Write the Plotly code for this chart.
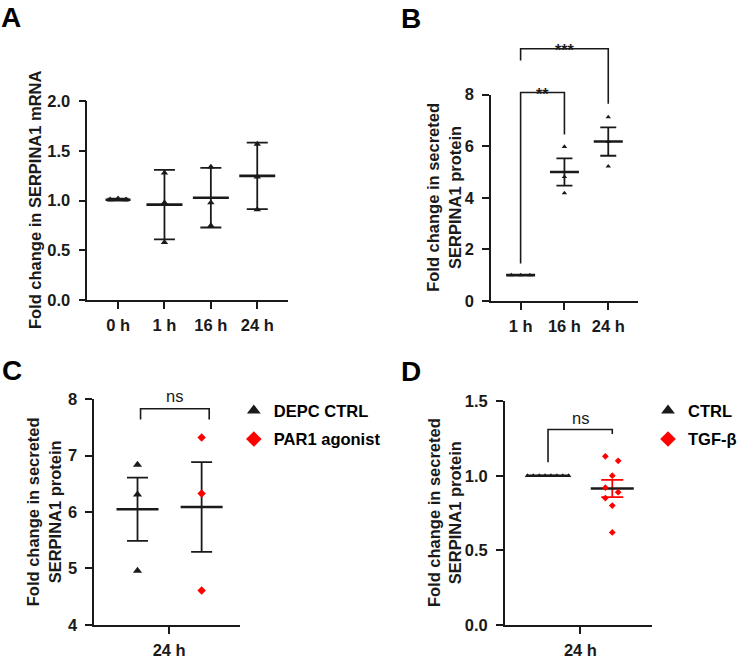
import plotly.graph_objects as go

W, H = 742, 667
INK = '#1a1a1a'
RED = '#ff0000'
FONT = 'Liberation Sans, Arial, Helvetica, sans-serif'
FS = 16.5

# ---- values ----
# A: SERPINA1 mRNA (mean +/- SD)
a_labels = ['0 h', '1 h', '16 h', '24 h']
a_points = [[1.01, 1.02, 1.01], [1.28, 0.98, 0.58], [1.34, 0.98, 0.75], [1.57, 1.24, 0.91]]
a_mean = [1.01, 0.96, 1.03, 1.25]
a_err = [0.01, 0.35, 0.30, 0.335]

# B: secreted SERPINA1 protein over time (mean +/- SEM)
b_labels = ['1 h', '16 h', '24 h']
b_points = [[1.0, 1.0, 1.0], [5.98, 4.81, 4.18], [7.13, 6.17, 5.22]]
b_mean = [1.0, 5.0, 6.18]
b_err = [0.0, 0.53, 0.55]
b_stars = ['**', '***']

# C: DEPC CTRL vs PAR1 agonist, 24 h
c_groups = ['DEPC CTRL', 'PAR1 agonist']
c_points = [[6.84, 6.31, 4.96], [7.32, 6.33, 4.61]]
c_mean = [6.05, 6.09]
c_err = [0.56, 0.795]

# D: CTRL vs TGF-beta, 24 h
d_groups = ['CTRL', 'TGF-β']
d_points = [[1.0, 1.0, 1.0, 1.0, 1.0, 1.0, 1.0, 1.0],
            [1.13, 1.10, 1.00, 0.92, 0.89, 0.85, 0.80, 0.62]]
d_mean = [1.0, 0.914]
d_err = [0.0, 0.058]

time_label = '24 h'
ns_text = 'ns'
title_a = 'Fold change in SERPINA1 mRNA'
title_protein = 'Fold change in secreted<br>SERPINA1 protein'


def px_x(p):
    return p / W


def px_y(p):
    return 1 - p / H


def to_paper(v, dom, rng):
    return dom[0] + (v - rng[0]) / (rng[1] - rng[0]) * (dom[1] - dom[0])


fig = go.Figure()


def add_mean_err(xa, ya, x, mean, err, length, cap, err_color=INK):
    # mean line drawn as a wide line-ew marker, error bar with caps
    fig.add_trace(go.Scatter(
        x=[x], y=[mean], mode='markers', xaxis=xa, yaxis=ya,
        showlegend=False, hoverinfo='skip',
        marker=dict(symbol='line-ew', size=length / 1.4, color=INK,
                    line=dict(color=INK, width=2.6)),
        error_y=dict(type='data', array=[err], visible=True, width=cap,
                     thickness=1.8, color=err_color)))


def add_points(xa, ya, xs, ys, symbol, size, color, name=None, legend=None):
    fig.add_trace(go.Scatter(
        x=xs, y=ys, mode='markers', xaxis=xa, yaxis=ya, name=name,
        showlegend=name is not None, legend=legend, legendgroup=name,
        hoverinfo='skip', cliponaxis=False,
        marker=dict(symbol=symbol, size=size, color=color, line=dict(width=0))))


# ---- panel A ----
a_len = [25, 36, 36, 36]
a_jitter = [[-0.17, 0, 0.17], [0, 0, 0], [0, 0, 0], [0, 0, 0]]
for i in range(len(a_labels)):
    add_mean_err('x', 'y', i, a_mean[i], a_err[i], a_len[i], 10.5)
for i in range(len(a_labels)):
    add_points('x', 'y', [i + j for j in a_jitter[i]], a_points[i], 'triangle-up', 6.5, INK)

# ---- panel B ----
b_jitter = [[-0.21, 0, 0.21], [0, 0, 0], [0, 0, 0]]
for i in range(len(b_labels)):
    add_mean_err('x2', 'y2', i, b_mean[i], b_err[i], 29, 8)
for i in range(len(b_labels)):
    add_points('x2', 'y2', [i + j for j in b_jitter[i]], b_points[i], 'triangle-up', 4.8, INK)

# ---- panel C ----
c_pos = [0.297, 0.738]
for i in range(2):
    add_mean_err('x3', 'y3', c_pos[i], c_mean[i], c_err[i], 42, 10.5)
add_points('x3', 'y3', [c_pos[0]] * 3, c_points[0], 'triangle-up', 8, INK, c_groups[0], 'legend')
add_points('x3', 'y3', [c_pos[1]] * 3, c_points[1], 'diamond', 6.5, RED, c_groups[1], 'legend')

# ---- panel D ----
d_pos = [0.292, 0.728]
d_jitter = [[-0.14, -0.10, -0.06, -0.02, 0.02, 0.06, 0.10, 0.14],
            [-0.047, 0.04, 0, -0.047, 0.04, -0.047, 0, 0]]
add_mean_err('x4', 'y4', d_pos[0], d_mean[0], d_err[0], 43, 11)
add_mean_err('x4', 'y4', d_pos[1], d_mean[1], d_err[1], 43, 11, err_color=RED)
add_points('x4', 'y4', [d_pos[0] + j for j in d_jitter[0]], d_points[0], 'triangle-up', 4.8, INK,
           d_groups[0], 'legend2')
add_points('x4', 'y4', [d_pos[1] + j for j in d_jitter[1]], d_points[1], 'diamond', 5.2, RED,
           d_groups[1], 'legend2')

# ---- axes ----
tick_font = dict(family=FONT, size=FS, color=INK, weight='bold')
ax = dict(showline=True, linecolor=INK, linewidth=1.8, ticks='outside', ticklen=7,
          tickwidth=1.8, tickcolor=INK, showgrid=False, zeroline=False,
          tickfont=tick_font, fixedrange=True)
xax = dict(ax, ticklabelstandoff=2)
yax = dict(ax, ticklabelstandoff=5)

dom_a = [px_y(299), px_y(95)]
dom_b = [px_y(300), px_y(88)]
dom_c = [px_y(633), px_y(401)]
dom_d = [px_y(633), px_y(403)]
rng_b = [0, 8]
rng_c = [4, 8]

leg_font = dict(family=FONT, size=FS, color='black', weight='bold')

fig.update_layout(
    width=W, height=H, margin=dict(l=0, r=0, t=0, b=0),
    paper_bgcolor='white', plot_bgcolor='white',
    font=dict(family=FONT, size=FS, color=INK),
    xaxis=dict(xax, domain=[px_x(89), px_x(293)], range=[-0.66, 3.66], anchor='y',
               tickvals=list(range(len(a_labels))), ticktext=a_labels),
    yaxis=dict(yax, domain=dom_a, range=[0, 2], anchor='x', tickvals=[0, 0.5, 1, 1.5, 2],
               tickformat='.1f'),
    xaxis2=dict(xax, domain=[px_x(500), px_x(649)], range=[-0.67, 2.67], anchor='y2',
                tickvals=list(range(len(b_labels))), ticktext=b_labels),
    yaxis2=dict(yax, domain=dom_b, range=rng_b, anchor='x2', tickvals=[0, 2, 4, 6, 8]),
    xaxis3=dict(xax, domain=[px_x(96), px_x(244)], range=[0, 1], anchor='y3',
                tickvals=[0.515], ticktext=[time_label]),
    yaxis3=dict(yax, domain=dom_c, range=rng_c, anchor='x3', tickvals=[4, 5, 6, 7, 8]),
    xaxis4=dict(xax, domain=[px_x(514), px_x(664)], range=[0, 1], anchor='y4',
                tickvals=[0.512], ticktext=[time_label]),
    yaxis4=dict(yax, domain=dom_d, range=[0, 1.5], anchor='x4', tickvals=[0, 0.5, 1, 1.5],
                tickformat='.1f'),
    legend=dict(x=px_x(238), y=px_y(395), xanchor='left', yanchor='top', font=leg_font,
                itemsizing='constant', tracegroupgap=4, bgcolor='rgba(0,0,0,0)'),
    legend2=dict(x=px_x(660), y=px_y(395), xanchor='left', yanchor='top', font=leg_font,
                 itemsizing='constant', tracegroupgap=4, bgcolor='rgba(0,0,0,0)'),
)

# ---- significance brackets ----
line = dict(color=INK, width=1.6)
shapes = []


def bracket_b(x0, x1, yl, ytop, yr):
    return dict(type='path', xref='x2', yref='paper', line=line,
                path='M {},{} L {},{} L {},{} L {},{}'.format(
                    x0, to_paper(yl, dom_b, rng_b), x0, to_paper(ytop, dom_b, rng_b),
                    x1, to_paper(ytop, dom_b, rng_b), x1, to_paper(yr, dom_b, rng_b)))


shapes.append(bracket_b(0, 1, 1.45, 8.08, 6.45))
shapes.append(bracket_b(0, 2, 9.32, 9.78, 7.65))
shapes.append(dict(type='path', xref='x3', yref='y3', line=line,
                   path='M 0.318,7.64 L 0.318,7.83 L 0.79,7.83 L 0.79,7.64'))
shapes.append(dict(type='path', xref='x4', yref='y4', line=line,
                   path='M {0},1.09 L {0},1.31 L {1},1.31 L {1},1.28'.format(d_pos[0], d_pos[1])))
fig.update_layout(shapes=shapes)

ann = []
ann.append(dict(x=0.5, xref='x2', y=to_paper(8.42, dom_b, rng_b), yref='paper', text=b_stars[0],
                showarrow=False, font=dict(size=16, color=INK, weight='bold')))
ann.append(dict(x=1, xref='x2', y=to_paper(10.12, dom_b, rng_b), yref='paper', text=b_stars[1],
                showarrow=False, font=dict(size=16, color=INK, weight='bold')))
ann.append(dict(x=0.554, xref='x3', y=to_paper(8.05, dom_c, rng_c), yref='paper', text=ns_text,
                showarrow=False, font=dict(size=FS, color=INK)))
ann.append(dict(x=d_pos[0] / 2 + d_pos[1] / 2, xref='x4', y=1.39, yref='y4', text=ns_text,
                showarrow=False, font=dict(size=FS, color=INK)))

# y-axis titles, rotated
for txt, (tx, ty) in zip([title_a, title_protein, title_protein, title_protein],
                         [(35, 196), (452, 194), (44, 517), (452, 518)]):
    ann.append(dict(x=px_x(tx), y=px_y(ty), xref='paper', yref='paper', text=txt,
                    textangle=-90, showarrow=False, xanchor='center', yanchor='middle',
                    font=dict(family=FONT, size=FS, color=INK, weight='bold')))

# panel letters
for letter, (lx, ly) in zip('ABCD', [(11.5, 9), (418, 10), (12, 372), (418, 373)]):
    ann.append(dict(x=px_x(lx), y=px_y(ly), xref='paper', yref='paper', text=letter,
                    showarrow=False, xanchor='center', yanchor='middle',
                    font=dict(family=FONT, size=28, color='black', weight='bold')))
fig.update_layout(annotations=ann)

# drop the default 8px page margin so the figure sits at the window origin
fig.write_html('out.html', config={'displayModeBar': False},
               post_script="document.body.style.margin='0px';")
